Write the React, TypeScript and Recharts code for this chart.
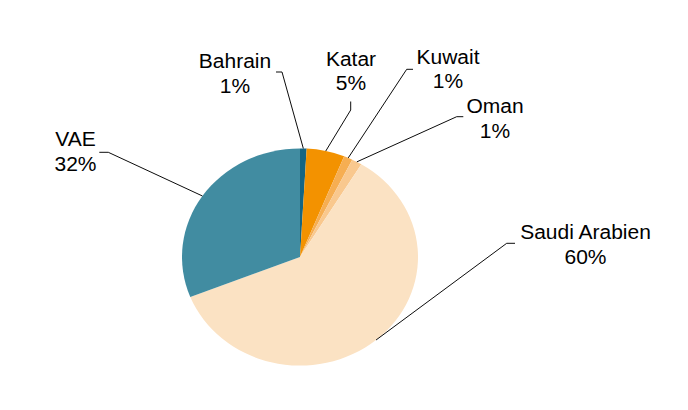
import React from "react";
import { PieChart, Pie, Cell } from "recharts";

const countries = ["Bahrain", "Katar", "Kuwait", "Oman", "Saudi Arabien", "VAE"];
const shares = [0.9, 5.2, 1.2, 1.4, 60.3, 31.0];
const shareLabels = ["1%", "5%", "1%", "1%", "60%", "32%"];
const colors = ["#156583", "#F39200", "#F6AE52", "#F9C88E", "#FBE2C3", "#418CA1"];

// vertical squash of the whole drawing (reference pie is an ellipse)
const SY = 0.92;

// label layout in page pixels: text centre x, first baseline y, leader start, leader elbow
const labelLayout = [
  { tx: 235, ty: 68.5, sx: 276, sy: 72, ex: 282, ey: 72 },
  { tx: 351, ty: 66, sx: 350.7, sy: 101.5, ex: 350.7, ey: 110 },
  { tx: 448, ty: 64, sx: 413, sy: 69.3, ex: 406.7, ey: 69.3 },
  { tx: 495, ty: 113.5, sx: 463.3, sy: 116.7, ex: 456.7, ey: 116.7 },
  { tx: 585.5, ty: 239.5, sx: 515, sy: 243.3, ex: 506.7, ey: 243.3 },
  { tx: 75.5, ty: 146.5, sx: 99.3, sy: 152.3, ex: 108.3, ey: 152.3 },
];

const data = countries.map((name, i) => ({ name, value: shares[i], label: shareLabels[i] }));

const RAD = Math.PI / 180;

const renderLabel = (props: any) => {
  const { cx, cy, midAngle, outerRadius, index } = props;
  const L = labelLayout[index];
  const px = cx + outerRadius * Math.cos(-midAngle * RAD);
  const py = cy + outerRadius * Math.sin(-midAngle * RAD);
  const line = 24.5 / SY;
  return (
    <g key={`lbl-${index}`}>
      <polyline
        points={`${L.sx},${L.sy / SY} ${L.ex},${L.ey / SY} ${px},${py}`}
        fill="none"
        stroke="#000"
        strokeWidth={1}
      />
      <text
        x={L.tx}
        y={L.ty / SY}
        textAnchor="middle"
        fontFamily="'Liberation Sans', Arial, sans-serif"
        fontSize={21}
        fill="#000"
      >
        <tspan x={L.tx} y={L.ty / SY}>{data[index].name}</tspan>
        <tspan x={L.tx} y={L.ty / SY + line}>{data[index].label}</tspan>
      </text>
    </g>
  );
};

export default function App() {
  return (
    <div
      style={{
        position: "absolute",
        left: 0,
        top: 0,
        width: 688,
        height: 410,
        overflow: "hidden",
        background: "#fff",
      }}
    >
      <div style={{ transform: `scale(1, ${SY})`, transformOrigin: "0 0" }}>
        <PieChart
          width={688}
          height={Math.round(410 / SY)}
          margin={{ top: 0, right: 0, bottom: 0, left: 0 }}
        >
          <Pie
            data={data}
            dataKey="value"
            nameKey="name"
            cx={300}
            cy={257 / SY}
            outerRadius={118}
            startAngle={90}
            endAngle={-270}
            stroke="none"
            isAnimationActive={false}
            label={renderLabel}
            labelLine={false}
          >
            {data.map((d, i) => (
              <Cell key={d.name} fill={colors[i]} />
            ))}
          </Pie>
        </PieChart>
      </div>
    </div>
  );
}
